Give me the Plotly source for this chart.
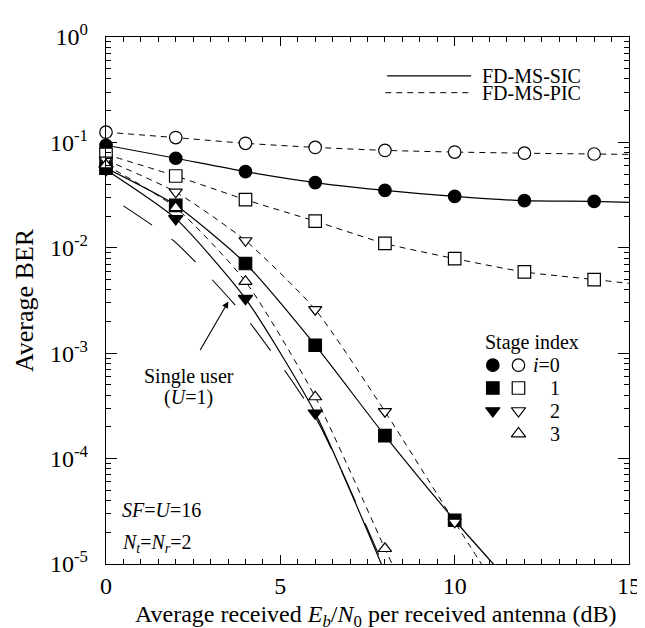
import plotly.graph_objects as go

# ---------------- data ----------------
snr = [0, 2, 4, 6, 8, 10, 12, 14]
ber_sic_i0 = [0.094, 0.0707, 0.0528, 0.0416, 0.035, 0.0307, 0.028, 0.0276]
ber_pic_i0 = [0.125, 0.111, 0.098, 0.0897, 0.084, 0.081, 0.079, 0.0776]
ber_pic_i1 = [0.077, 0.048, 0.0286, 0.0179, 0.011, 0.0079, 0.0059, 0.0050]

snr_i1 = [0, 2, 4, 6, 8, 10]
ber_sic_i1 = [0.057, 0.0253, 0.0071, 0.00119, 1.65e-4, 2.6e-5]
ber_pic_i2 = [0.068, 0.0338, 0.0117, 0.0026, 2.8e-4, 2.5e-5]

snr_sic_i2 = [0, 2, 4, 6]
ber_sic_i2 = [0.055, 0.0189, 0.0033, 2.7e-4]

snr_pic_i3 = [0, 2, 4, 6, 8]
ber_pic_i3 = [0.061, 0.024, 0.0048, 3.85e-4, 1.4e-5]

# where each curve continues past its last marker
tail_sic_i0 = (15, 0.027)
tail_pic_i0 = (15, 0.077)
tail_pic_i1 = (15, 0.0046)
tail_sic_i1 = (11.3, 8.5e-6)
tail_pic_i2 = (11.0, 7.6e-6)
tail_sic_i2 = (8.0, 8.3e-6)
tail_pic_i3 = (8.5, 6.2e-6)

# single user (U=1) reference curve
snr_su = [0.5, 2, 4, 6, 8]
ber_su = [0.025, 0.0112, 0.0022, 2.5e-4, 9e-6]

y_tick_vals = [1e-5, 1e-4, 1e-3, 1e-2, 1e-1, 1]
y_tick_text = ["10<sup>-5</sup>", "10<sup>-4</sup>", "10<sup>-3</sup>",
               "10<sup>-2</sup>", "10<sup>-1</sup>", "10<sup>0</sup>"]
x_tick_vals = [0, 5, 10, 15]

X_TITLE = ("Average received <i>E</i><sub><i>b</i></sub>/<i>N</i><sub>0</sub>"
           " per received antenna (dB)")
Y_TITLE = "Average BER"

FONT = "Liberation Serif"
BLACK = "black"
PIC_DASH = "6px,5px"
SU_DASH = "34px,24px"

# pixel geometry of the plot area (used for paper-coordinate placement)
L, R, T, B = 98, 628, 26, 556
W, H = R - L, B - T


def fx(px):
    return (px - L) / W


def fy(py):
    return 1 - (py - T) / H


fig = go.Figure()


def add_curve(xs, ys, tail, dash, width):
    xx = list(xs) + ([tail[0]] if tail else [])
    yy = list(ys) + ([tail[1]] if tail else [])
    fig.add_trace(go.Scatter(x=xx, y=yy, mode="lines",
                             line=dict(color=BLACK, width=width, dash=dash,
                                       shape="spline", smoothing=0.6),
                             hoverinfo="skip"))


# lines
add_curve(snr_su, ber_su, None, SU_DASH, 1.1)
add_curve(snr, ber_sic_i0, tail_sic_i0, "solid", 1.2)
add_curve(snr_i1, ber_sic_i1, tail_sic_i1, "solid", 1.2)
add_curve(snr_sic_i2, ber_sic_i2, tail_sic_i2, "solid", 1.2)
add_curve(snr, ber_pic_i0, tail_pic_i0, PIC_DASH, 1.0)
add_curve(snr, ber_pic_i1, tail_pic_i1, PIC_DASH, 1.0)
add_curve(snr_i1, ber_pic_i2, tail_pic_i2, PIC_DASH, 1.0)
add_curve(snr_pic_i3, ber_pic_i3, tail_pic_i3, PIC_DASH, 1.0)


def add_markers(xs, ys, symbol, filled, size, xaxis="x", yaxis="y"):
    fig.add_trace(go.Scatter(
        x=xs, y=ys, mode="markers", cliponaxis=False,
        xaxis=xaxis, yaxis=yaxis,
        marker=dict(symbol=symbol, size=size,
                    color=BLACK if filled else "white",
                    line=dict(color=BLACK, width=1.2)),
        hoverinfo="skip"))


# filled (SIC) markers first, open (PIC) on top
add_markers(snr, ber_sic_i0, "circle", True, 12.5)
add_markers(snr_i1, ber_sic_i1, "square", True, 12.5)
add_markers(snr_sic_i2, ber_sic_i2, "triangle-down", True, 12.5)
add_markers(snr, ber_pic_i0, "circle", False, 12.5)
add_markers(snr, ber_pic_i1, "square", False, 12.5)
add_markers(snr_i1, ber_pic_i2, "triangle-down", False, 11.5)
add_markers(snr_pic_i3, ber_pic_i3, "triangle-up", False, 11.5)

# ---------------- legends (overlay axes in 0..1 units) ----------------
leg_x_filled = [fx(490)]
leg_x_open = [fx(516)]
rows_y = [fy(356), fy(379), fy(402), fy(425)]
add_markers(leg_x_filled, [rows_y[0]], "circle", True, 12.5, "x2", "y2")
add_markers(leg_x_open, [rows_y[0]], "circle", False, 12.5, "x2", "y2")
add_markers(leg_x_filled, [rows_y[1]], "square", True, 12.5, "x2", "y2")
add_markers(leg_x_open, [rows_y[1]], "square", False, 12.5, "x2", "y2")
add_markers(leg_x_filled, [rows_y[2]], "triangle-down", True, 12.5, "x2", "y2")
add_markers(leg_x_open, [rows_y[2]], "triangle-down", False, 12.5, "x2", "y2")
add_markers(leg_x_open, [rows_y[3]], "triangle-up", False, 12.5, "x2", "y2")

fig.add_trace(go.Scatter(x=[fx(383), fx(468)], y=[fy(65), fy(65)], mode="lines",
                         xaxis="x2", yaxis="y2", line=dict(color=BLACK, width=1.2),
                         hoverinfo="skip"))
fig.add_trace(go.Scatter(x=[fx(381), fx(468)], y=[fy(82), fy(82)], mode="lines",
                         xaxis="x2", yaxis="y2",
                         line=dict(color=BLACK, width=1.0, dash=PIC_DASH),
                         hoverinfo="skip"))

ann = []


def text(px, py, s, size=20, xanchor="left", yanchor="middle"):
    ann.append(dict(x=fx(px), y=fy(py), xref="paper", yref="paper", text=s,
                    showarrow=False, xanchor=xanchor, yanchor=yanchor,
                    font=dict(family=FONT, size=size, color=BLACK)))


text(477, 65, "FD-MS-SIC")
text(477, 82, "FD-MS-PIC")
text(480, 333, "Stage index")
text(560, 356, "<i>i</i>=0", xanchor="right")
text(560, 379, "1", xanchor="right")
text(560, 402, "2", xanchor="right")
text(560, 425, "3", xanchor="right")
text(182, 367, "Single user", xanchor="center")
text(182, 389, "(<i>U</i>=1)", xanchor="center")
text(112, 502, "<i>SF</i>=<i>U</i>=16")
text(112, 535, "<i>N</i><sub><i>t</i></sub>=<i>N</i><sub><i>r</i></sub>=2")
# x-axis title placed as text below the tick labels
text(371, 591, X_TITLE, size=24, xanchor="center", yanchor="top")

# arrow pointing at the single-user curve
ann.append(dict(x=fx(222), y=fy(292), xref="paper", yref="paper",
                ax=193 - 222, ay=342 - 292, axref="pixel", ayref="pixel",
                showarrow=True, arrowhead=2, arrowsize=1.2, arrowwidth=1.1,
                arrowcolor=BLACK, text=""))

minor_y = [m * 10.0 ** e for e in range(-5, 0) for m in range(2, 10)]

fig.update_layout(
    width=645, height=628,
    margin=dict(l=L, r=645 - R, t=T, b=628 - B),
    paper_bgcolor="white", plot_bgcolor="white",
    showlegend=False,
    font=dict(family=FONT, color=BLACK),
    annotations=ann,
    xaxis=dict(range=[0, 15], tickvals=x_tick_vals, ticks="inside", ticklen=9,
               tickwidth=1.2, tickcolor=BLACK, showline=True, linecolor=BLACK,
               linewidth=1.4, mirror="ticks", showgrid=False, zeroline=False,
               tickfont=dict(family=FONT, size=24), ticklabelstandoff=0,
               minor=dict(ticks="inside", dtick=0.5, ticklen=5, tickwidth=1,
                          tickcolor=BLACK, showgrid=False)),
    yaxis=dict(type="log", range=[-5, 0], tickvals=y_tick_vals, ticktext=y_tick_text,
               ticks="inside", ticklen=11, tickwidth=1.2, tickcolor=BLACK,
               showline=True, linecolor=BLACK, linewidth=1.4, mirror="ticks",
               showgrid=False, zeroline=False,
               tickfont=dict(family=FONT, size=24), ticklabelstandoff=12,
               minor=dict(ticks="inside", tickvals=minor_y, ticklen=5, tickwidth=1,
                          tickcolor=BLACK, showgrid=False),
               title=dict(text=Y_TITLE, font=dict(family=FONT, size=26),
                          standoff=8)),
    xaxis2=dict(overlaying="x", range=[0, 1], visible=False),
    yaxis2=dict(overlaying="y", range=[0, 1], visible=False),
)

fig.write_html("out.html")
